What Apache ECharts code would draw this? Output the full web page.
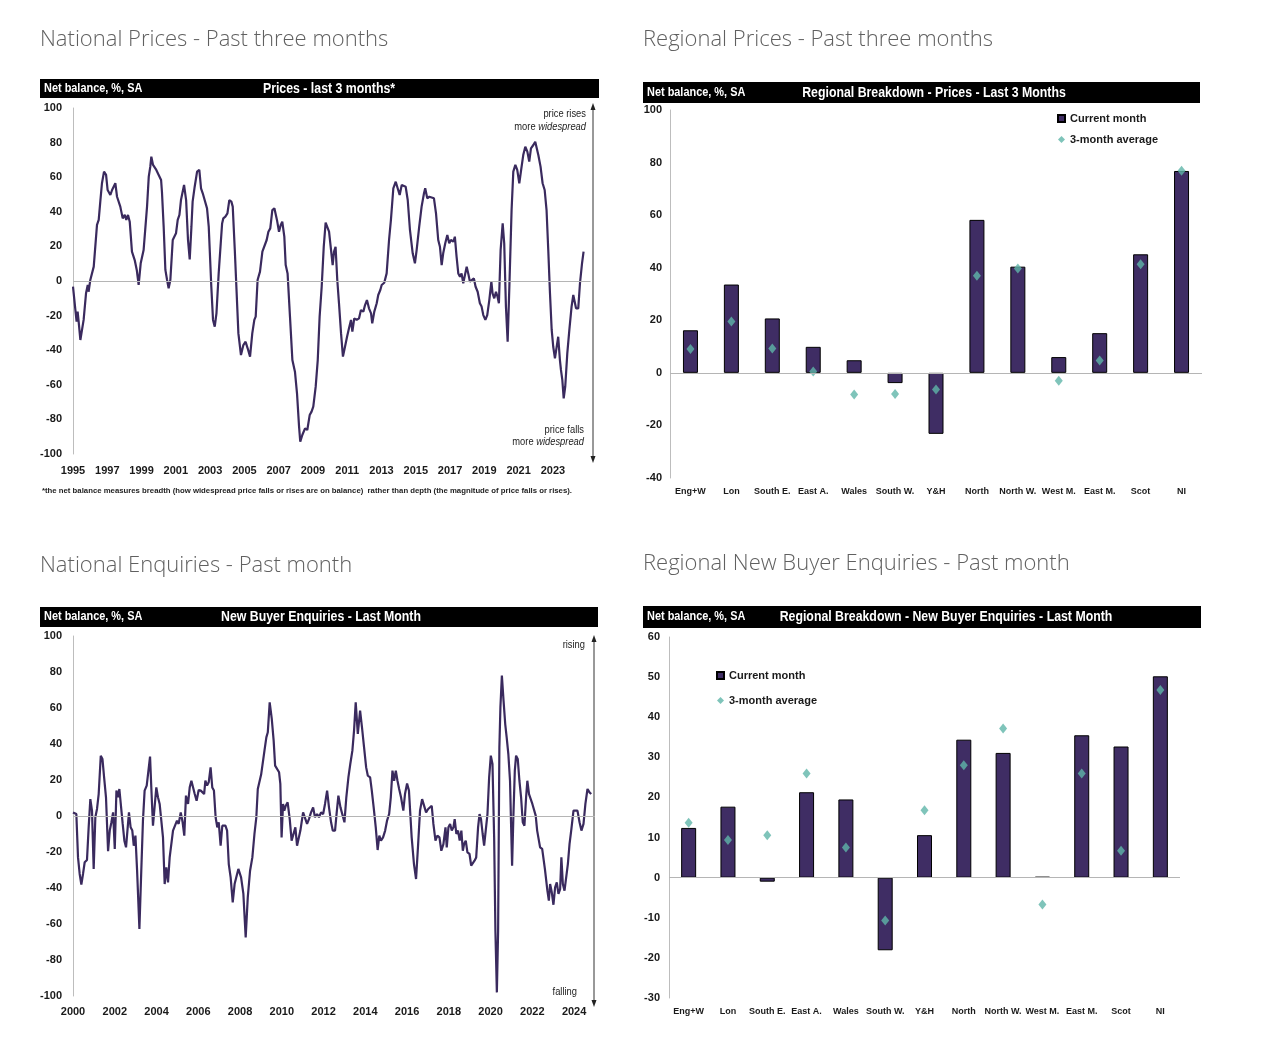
<!DOCTYPE html>
<html>
<head>
<meta charset="utf-8">
<script src="https://cdn.jsdelivr.net/npm/echarts@6/dist/echarts.min.js"></script>
<style>
html,body{margin:0;padding:0;background:#fff;}
#c{width:1264px;height:1058px;}
</style>
</head>
<body>
<div id="c"></div>
<script>
// ---------- DATA ----------
const regions = ['Eng+W','Lon','South E.','East A.','Wales','South W.','Y&H','North','North W.','West M.','East M.','Scot','NI'];

const regPricesCurrent = [16.2, 33.6, 20.7, 9.9, 4.8, -3.9, -23.2, 58.2, 40.4, 6.0, 15.1, 45.1, 76.8];
const regPricesAvg     = [9.1, 19.5, 9.3, 0.5, -8.2, -8.0, -6.3, 36.9, 39.7, -3.0, 4.7, 41.3, 76.9];

const regEnqCurrent = [12.4, 17.7, -1.0, 21.3, 19.5, -18.1, 10.6, 34.4, 31.1, 0.2, 35.5, 32.7, 50.2];
const regEnqAvg     = [13.7, 9.4, 10.6, 26.0, 7.5, -10.7, 16.8, 28.0, 37.2, -6.7, 26.0, 6.7, 46.8];

// [min, max, interval, last labelled year]
const pricesYearTicks = [1995, 2025.2, 2, 2023];
const enqYearTicks = [2000, 2025, 2, 2024];

// [year, net balance]
const nationalPrices = [
[1995.00,-3.3],[1995.14,-16.8],[1995.21,-23.5],[1995.27,-17.7],[1995.33,-23.5],[1995.43,-34.1],[1995.53,-33.0],
[1995.62,-22.5],[1995.76,-7.1],[1995.86,-2.3],[1995.91,-6.2],[1996.01,0.6],[1996.11,-0.4],[1996.21,8.3],[1996.30,9.2],
[1996.40,32.4],[1996.50,35.3],[1996.60,46.8],[1996.69,56.5],[1996.81,63.2],[1996.93,61.3],[1997.02,52.6],[1997.10,53.6],
[1997.18,49.7],[1997.28,52.6],[1997.37,52.6],[1997.47,56.5],[1997.57,48.7],[1997.76,43.0],[1997.90,36.2],[1998.02,38.2],
[1998.11,35.3],[1998.21,38.2],[1998.31,34.3],[1998.44,17.0],[1998.60,12.1],[1998.72,6.4],[1998.83,-2.3],[1998.95,10.2],
[1999.12,17.9],[1999.22,30.4],[1999.32,43.0],[1999.42,60.3],[1999.51,66.1],[1999.57,71.9],[1999.67,67.1],[1999.77,68.0],
[1999.86,64.2],[2000.00,61.3],[2000.14,58.4],[2000.19,51.6],[2000.29,31.4],[2000.39,6.4],[2000.49,0.6],[2000.58,-4.2],
[2000.68,0.6],[2000.82,23.7],[2000.93,22.7],[2001.01,27.6],[2001.11,35.3],[2001.21,38.2],[2001.30,46.8],[2001.40,47.8],
[2001.48,55.5],[2001.60,46.8],[2001.71,23.7],[2001.81,12.5],[2001.91,31.4],[2001.98,45.9],[2002.10,54.5],[2002.24,63.2],
[2002.37,64.2],[2002.47,53.6],[2002.57,50.7],[2002.67,49.7],[2002.82,42.0],[2002.92,31.4],[2003.07,-3.3],[2003.17,-22.5],
[2003.27,-26.4],[2003.37,-18.7],[2003.50,4.4],[2003.62,21.8],[2003.70,33.3],[2003.77,36.2],[2003.89,37.2],[2004.01,39.1],
[2004.12,46.8],[2004.24,45.9],[2004.32,43.0],[2004.44,17.9],[2004.65,-30.3],[2004.80,-42.8],[2004.94,-37.0],[2005.07,-35.1],
[2005.19,-38.9],[2005.33,-43.7],[2005.46,-30.3],[2005.58,-22.5],[2005.66,-20.6],[2005.77,0.6],[2005.91,5.4],[2006.05,17.0],
[2006.16,17.9],[2006.30,23.7],[2006.40,28.5],[2006.51,30.4],[2006.63,41.0],[2006.75,42.0],[2006.82,42.0],[2006.90,35.3],
[2007.02,28.5],[2007.12,32.4],[2007.21,34.3],[2007.33,25.6],[2007.41,9.2],[2007.52,4.4],[2007.66,-20.6],[2007.80,-45.7],
[2007.95,-52.4],[2008.07,-64.9],[2008.19,-84.2],[2008.26,-92.9],[2008.38,-89.0],[2008.54,-85.2],[2008.67,-86.1],[2008.81,-77.5],
[2008.92,-75.5],[2009.02,-72.6],[2009.16,-61.1],[2009.28,-45.7],[2009.39,-20.6],[2009.51,-3.3],[2009.63,19.8],[2009.74,33.7],
[2009.84,33.3],[2009.94,28.5],[2010.05,27.6],[2010.15,9.2],[2010.23,17.0],[2010.32,19.8],[2010.42,0.6],[2010.52,-12.9],
[2010.64,-30.3],[2010.75,-43.7],[2010.87,-38.0],[2010.99,-32.2],[2011.10,-27.4],[2011.22,-22.5],[2011.30,-29.3],[2011.41,-21.6],
[2011.55,-22.5],[2011.69,-21.6],[2011.80,-16.8],[2011.94,-17.7],[2012.04,-13.9],[2012.15,-11.0],[2012.27,-15.8],[2012.39,-18.7],
[2012.46,-24.5],[2012.58,-17.7],[2012.72,-12.9],[2012.81,-8.1],[2012.93,-5.2],[2013.01,-2.3],[2013.16,-1.0],[2013.30,4.4],
[2013.44,23.7],[2013.55,35.3],[2013.69,53.6],[2013.83,57.4],[2013.94,56.5],[2014.06,49.7],[2014.18,55.5],[2014.29,54.5],
[2014.41,54.5],[2014.53,46.8],[2014.66,29.5],[2014.82,16.0],[2014.95,10.2],[2015.05,17.9],[2015.20,31.4],[2015.34,43.0],
[2015.48,50.7],[2015.55,53.6],[2015.67,47.8],[2015.79,48.7],[2015.90,47.8],[2016.06,47.8],[2016.18,39.1],[2016.31,23.7],
[2016.41,19.8],[2016.51,9.2],[2016.60,16.0],[2016.72,21.8],[2016.84,26.6],[2016.95,21.8],[2017.05,23.7],[2017.19,22.7],
[2017.28,25.6],[2017.38,14.1],[2017.48,4.4],[2017.58,2.5],[2017.67,4.4],[2017.77,-1.3],[2017.87,-2.3],[2017.97,8.3],
[2018.06,4.4],[2018.16,-0.4],[2018.26,-1.3],[2018.39,1.5],[2018.49,-3.3],[2018.61,-6.2],[2018.74,-12.9],[2018.84,-14.8],
[2018.94,-19.7],[2019.06,-22.5],[2019.17,-19.7],[2019.29,-11.0],[2019.41,-0.4],[2019.48,-7.1],[2019.58,-10.0],[2019.68,-6.2],
[2019.77,-9.1],[2019.85,-12.9],[2019.95,17.9],[2020.07,33.3],[2020.16,21.8],[2020.26,-14.8],[2020.36,-35.1],[2020.46,-3.3],
[2020.59,41.0],[2020.69,63.2],[2020.81,67.1],[2020.92,64.2],[2021.04,56.5],[2021.16,65.1],[2021.27,72.8],[2021.39,77.6],
[2021.51,74.8],[2021.62,69.0],[2021.72,76.7],[2021.86,78.6],[2021.97,80.5],[2022.05,81.5],[2022.15,72.8],[2022.28,66.1],
[2022.40,56.5],[2022.52,52.6],[2022.63,41.0],[2022.73,17.9],[2022.83,-7.1],[2022.93,-28.3],[2023.02,-38.0],[2023.12,-44.7],
[2023.22,-45.7],[2023.31,-32.2],[2023.41,-45.7],[2023.47,-51.4],[2023.55,-57.2],[2023.63,-67.8],[2023.72,-61.1],[2023.84,-41.8],
[2023.96,-28.3],[2024.09,-14.8],[2024.19,-8.1],[2024.27,-7.1],[2024.35,-15.8],[2024.48,-15.8],[2024.58,-1.3],[2024.70,10.2],
[2024.79,17.0]
];

const nationalEnquiries = [
[2000.00,2.0],[2000.08,2.6],[2000.16,1.1],[2000.24,-23.0],[2000.32,-32.2],[2000.40,-38.1],[2000.48,-32.2],[2000.56,-25.7],
[2000.67,-24.4],[2000.75,-6.3],[2000.83,9.4],[2000.91,3.0],[2000.99,-29.4],[2001.07,-0.7],[2001.15,3.9],[2001.23,12.2],
[2001.33,33.5],[2001.41,31.7],[2001.49,21.5],[2001.58,10.4],[2001.68,-19.6],[2001.76,-8.1],[2001.84,-3.5],[2001.92,2.0],
[2002.00,-18.3],[2002.08,14.1],[2002.16,10.4],[2002.22,15.0],[2002.30,15.9],[2002.38,-4.4],[2002.46,-13.7],[2002.54,-17.4],
[2002.62,-16.5],[2002.68,2.0],[2002.76,-6.3],[2002.84,-8.1],[2002.91,-16.5],[2002.99,-10.9],[2003.07,-30.4],[2003.18,-62.8],
[2003.27,-30.4],[2003.35,-2.6],[2003.43,14.1],[2003.53,16.9],[2003.62,17.8],[2003.69,33.0],[2003.75,15.9],[2003.83,-5.4],
[2003.91,-5.4],[2003.99,15.9],[2004.07,10.4],[2004.15,6.7],[2004.23,5.7],[2004.31,-11.9],[2004.39,-37.8],[2004.47,-28.5],
[2004.55,-36.9],[2004.63,-23.0],[2004.71,-22.6],[2004.79,-8.1],[2004.87,-7.2],[2004.98,-2.6],[2005.06,-4.4],[2005.16,2.0],
[2005.25,-3.5],[2005.33,-10.9],[2005.41,11.3],[2005.51,6.7],[2005.59,15.9],[2005.67,19.6],[2005.75,19.6],[2005.83,12.2],
[2005.92,8.5],[2006.02,14.4],[2006.12,14.1],[2006.20,14.4],[2006.28,12.2],[2006.34,19.6],[2006.42,16.9],[2006.50,18.7],
[2006.59,27.0],[2006.67,15.9],[2006.75,14.1],[2006.83,-0.7],[2006.91,-6.3],[2006.98,-3.5],[2007.07,-16.5],[2007.15,-5.4],
[2007.23,-4.4],[2007.30,-5.4],[2007.38,-8.1],[2007.46,-26.7],[2007.55,-34.1],[2007.65,-48.0],[2007.74,-37.8],[2007.92,-29.4],
[2008.05,-34.1],[2008.16,-43.3],[2008.27,-67.4],[2008.37,-45.2],[2008.48,-30.4],[2008.59,-23.0],[2008.69,-10.0],[2008.78,-0.7],
[2008.85,15.0],[2008.94,15.9],[2009.01,23.0],[2009.09,23.3],[2009.17,36.3],[2009.26,43.7],[2009.33,46.5],[2009.42,63.1],
[2009.52,53.9],[2009.61,41.9],[2009.68,28.0],[2009.77,28.0],[2009.87,24.3],[2009.93,17.8],[2009.99,-11.9],[2010.06,6.7],
[2010.12,3.0],[2010.19,5.7],[2010.28,7.6],[2010.38,-1.7],[2010.47,-13.7],[2010.55,-14.6],[2010.65,-6.3],[2010.73,-16.5],
[2010.79,-17.4],[2010.89,-8.1],[2011.02,2.0],[2011.11,1.1],[2011.21,-4.4],[2011.30,-1.7],[2011.40,2.0],[2011.50,4.8],
[2011.59,-0.7],[2011.69,1.1],[2011.78,-0.7],[2011.88,2.0],[2011.98,1.1],[2012.07,6.7],[2012.17,14.1],[2012.26,4.8],
[2012.36,-3.5],[2012.44,-8.1],[2012.55,-8.1],[2012.63,2.0],[2012.71,11.3],[2012.81,4.8],[2012.90,5.7],[2013.00,-3.5],
[2013.09,10.4],[2013.19,21.5],[2013.28,28.9],[2013.38,36.3],[2013.46,47.4],[2013.54,63.1],[2013.64,45.6],[2013.75,58.5],
[2013.84,49.3],[2013.94,38.1],[2014.04,27.0],[2014.12,22.4],[2014.23,21.5],[2014.31,14.1],[2014.40,4.8],[2014.50,-6.3],
[2014.59,-18.9],[2014.67,-10.9],[2014.75,-13.7],[2014.85,-11.9],[2014.95,-8.1],[2015.04,-2.6],[2015.14,1.1],[2015.22,10.4],
[2015.30,25.2],[2015.38,19.6],[2015.46,25.2],[2015.54,19.6],[2015.62,15.0],[2015.71,10.4],[2015.82,3.0],[2015.90,12.2],
[2016.00,18.1],[2016.09,14.1],[2016.22,-11.9],[2016.33,-26.7],[2016.43,-35.0],[2016.53,-15.6],[2016.62,3.0],[2016.72,9.4],
[2016.81,8.5],[2016.91,2.0],[2017.01,3.9],[2017.10,3.0],[2017.18,5.7],[2017.26,-4.4],[2017.36,-13.7],[2017.45,-10.9],
[2017.55,-11.9],[2017.64,-19.3],[2017.74,-15.6],[2017.84,-6.3],[2017.90,-17.4],[2017.98,-6.3],[2018.06,-4.4],[2018.14,-8.1],
[2018.22,-6.3],[2018.28,-1.7],[2018.36,-10.0],[2018.44,-8.1],[2018.52,-13.7],[2018.60,-8.1],[2018.67,-19.3],[2018.73,-15.6],
[2018.81,-13.7],[2018.89,-20.2],[2018.99,-21.1],[2019.07,-27.6],[2019.15,-27.6],[2019.23,-24.8],[2019.31,-23.0],[2019.40,-6.3],
[2019.47,1.1],[2019.54,-1.7],[2019.62,-10.0],[2019.69,-16.5],[2019.77,-17.4],[2019.85,1.1],[2019.93,21.5],[2020.01,33.5],
[2020.09,28.9],[2020.17,-11.9],[2020.23,-63.7],[2020.30,-98.0],[2020.36,-63.7],[2020.42,38.1],[2020.47,60.4],[2020.54,78.0],
[2020.62,64.1],[2020.70,51.1],[2020.77,43.7],[2020.85,34.4],[2020.93,19.6],[2020.98,-4.4],[2021.03,-27.6],[2021.09,-0.7],
[2021.16,25.2],[2021.22,33.5],[2021.30,31.7],[2021.38,19.6],[2021.46,10.4],[2021.54,-3.5],[2021.62,-5.4],[2021.70,10.4],
[2021.76,19.6],[2021.84,12.2],[2021.92,12.2],[2022.00,6.7],[2022.08,6.7],[2022.16,0.2],[2022.23,-8.1],[2022.31,-7.2],
[2022.37,-17.4],[2022.47,-18.3],[2022.53,-17.4],[2022.60,-29.4],[2022.66,-30.4],[2022.72,-41.5],[2022.79,-47.0],[2022.85,-37.8],
[2022.93,-42.4],[2023.01,-49.3],[2023.09,-39.6],[2023.17,-36.9],[2023.25,-43.3],[2023.33,-40.6],[2023.39,-23.0],[2023.46,-37.8],
[2023.54,-41.5],[2023.62,-40.6],[2023.70,-26.7],[2023.78,-15.6],[2023.87,-7.2],[2023.97,3.0],[2024.06,3.0],[2024.16,3.0],
[2024.26,-3.5],[2024.35,-8.1],[2024.45,-4.4],[2024.54,6.7],[2024.64,15.0],[2024.74,13.1],[2024.82,12.2]
];

// ---------- STYLE ----------
const SANS = "'Liberation Sans','Arial',sans-serif";
const HEAD = "'Open Sans','Noto Sans',sans-serif";
const LINE_C = '#3a2a5e';
const BAR_C = '#3f2d64';
const DIA_C = '#5fb5a9';
const AXIS_C = '#bdbdbd';

const chart = echarts.init(document.getElementById('c'));

function yAxisCfg(grid, min, max, interval, margin) {
  return {
    type: 'value', gridIndex: grid, min: min, max: max, interval: interval,
    axisLine: { show: true, lineStyle: { color: AXIS_C, width: 1 } },
    axisTick: { show: false }, splitLine: { show: false },
    axisLabel: { margin: margin, color: '#1a1a1a', fontFamily: SANS, fontWeight: 'bold', fontSize: 11 }
  };
}
function xValueCfg(grid, t, margin) {
  return {
    type: 'value', gridIndex: grid, min: t[0], max: t[1], interval: t[2],
    axisLine: { show: false }, axisTick: { show: false }, splitLine: { show: false },
    axisLabel: { margin: margin, showMaxLabel: false, color: '#1a1a1a', fontFamily: SANS, fontWeight: 'bold', fontSize: 11,
      formatter: function (v) { return v > t[3] + 0.5 ? '' : String(Math.round(v)); } }
  };
}
function xCatCfg(grid, margin) {
  return {
    type: 'category', gridIndex: grid, data: regions,
    axisLine: { show: false }, axisTick: { show: false }, splitLine: { show: false },
    axisLabel: { margin: margin, interval: 0, color: '#1a1a1a', fontFamily: SANS, fontWeight: 'bold', fontSize: 9 }
  };
}
const zeroLine = {
  silent: true, symbol: 'none', label: { show: false },
  lineStyle: { color: '#b5b5b5', width: 1, type: 'solid' },
  emphasis: { disabled: true },
  data: [{ yAxis: 0 }]
};

// condensed text (emulates a narrow typeface by horizontal scaling)
function ntext(x, y, text, font, fill, align, scale, rich) {
  return { type: 'text', silent: true, x: x, y: y, scaleX: scale, scaleY: 1,
    style: { text: text, x: 0, y: 0, align: align, verticalAlign: 'middle', fill: fill, font: font, rich: rich } };
}
function blackBar(x, y, w, h, cx, title) {
  return [
    { type: 'rect', shape: { x: x, y: y, width: w, height: h }, style: { fill: '#000' }, silent: true },
    ntext(x + 4, y + h / 2, 'Net balance, %, SA', 'bold 12px ' + SANS, '#fff', 'left', 0.91),
    ntext(cx, y + h / 2 + 0.5, title, 'bold 14px ' + SANS, '#fff', 'center', 0.88)
  ];
}
function heading(x, y, t) {
  return { type: 'text', silent: true, style: { text: t, x: x, y: y, verticalAlign: 'middle', fill: '#606060', font: '300 22px ' + HEAD } };
}
function vArrow(x, y1, y2) {
  return [
    { type: 'line', silent: true, shape: { x1: x, y1: y1 + 4, x2: x, y2: y2 - 4 }, style: { stroke: '#333', lineWidth: 1 } },
    { type: 'polygon', silent: true, shape: { points: [[x, y1], [x - 2.5, y1 + 7], [x + 2.5, y1 + 7]] }, style: { fill: '#222' } },
    { type: 'polygon', silent: true, shape: { points: [[x, y2], [x - 2.5, y2 - 7], [x + 2.5, y2 - 7]] }, style: { fill: '#222' } }
  ];
}
const richItal = {
  a: { fontFamily: SANS, fontSize: 11, fill: '#222' },
  b: { fontFamily: SANS, fontSize: 11, fontStyle: 'italic', fill: '#222' }
};
function note(x, y, text, rich) {
  return ntext(x, y, text, '11px ' + SANS, '#222', 'right', 0.85, rich);
}

const graphics = [].concat(
  [heading(40, 40, 'National Prices - Past three months'),
   heading(643, 40, 'Regional Prices - Past three months'),
   heading(40, 566, 'National Enquiries - Past month'),
   heading(643, 564, 'Regional New Buyer Enquiries - Past month')],
  blackBar(40, 79, 559, 19, 329, 'Prices - last 3 months*'),
  blackBar(643, 82, 557, 21, 934, 'Regional Breakdown - Prices - Last 3 Months'),
  blackBar(40, 607, 558, 20, 321, 'New Buyer Enquiries - Last Month'),
  blackBar(643, 606, 558, 22, 946, 'Regional Breakdown - New Buyer Enquiries - Last Month'),
  vArrow(593, 103, 463),
  vArrow(594, 635, 1007),
  [note(586, 114, 'price rises'),
   note(586, 127, '{a|more }{b|widespread}', richItal),
   note(584, 430, 'price falls'),
   note(584, 442, '{a|more }{b|widespread}', richItal),
   note(585, 645, 'rising'),
   note(577, 992, 'falling'),
   ntext(42, 491, '*the net balance measures breadth (how widespread price falls or rises are on balance)  rather than depth (the magnitude of price falls or rises).',
     'bold 8px ' + SANS, '#222', 'left', 0.97)]
);

const legendText = { fontFamily: SANS, fontWeight: 'bold', fontSize: 11, color: '#1a1a1a' };

const option = {
  animation: false,
  backgroundColor: '#fff',
  grid: [
    { left: 73, top: 108, width: 517.6, height: 346 },
    { left: 670, top: 110, width: 532, height: 368 },
    { left: 73, top: 636, width: 522, height: 360 },
    { left: 669, top: 637, width: 511, height: 361 }
  ],
  xAxis: [
    xValueCfg(0, pricesYearTicks, 11),
    xCatCfg(1, 9),
    xValueCfg(2, enqYearTicks, 10),
    xCatCfg(3, 9)
  ],
  yAxis: [
    yAxisCfg(0, -100, 100, 20, 11),
    yAxisCfg(1, -40, 100, 20, 8),
    yAxisCfg(2, -100, 100, 20, 11),
    yAxisCfg(3, -30, 60, 10, 9)
  ],
  legend: [
    { orient: 'vertical', left: 1052, top: 108, itemWidth: 7, itemHeight: 7, itemGap: 10, textStyle: legendText, selectedMode: false,
      data: [{ name: 'Current month', icon: 'rect' }, { name: '3-month average', icon: 'diamond' }] },
    { orient: 'vertical', left: 711, top: 665, itemWidth: 7, itemHeight: 7, itemGap: 14, textStyle: legendText, selectedMode: false,
      data: [{ name: 'Current month', icon: 'rect' }, { name: '3-month average', icon: 'diamond' }] }
  ],
  graphic: graphics,
  series: [
    { type: 'line', name: 'Prices', xAxisIndex: 0, yAxisIndex: 0, data: nationalPrices, showSymbol: false, symbol: 'none',
      lineStyle: { color: LINE_C, width: 2.2 }, itemStyle: { color: LINE_C }, markLine: zeroLine, z: 3 },
    { type: 'bar', name: 'Current month', xAxisIndex: 1, yAxisIndex: 1, data: regPricesCurrent, barWidth: 15,
      itemStyle: { color: BAR_C, borderColor: '#000', borderWidth: 1 }, markLine: zeroLine },
    { type: 'scatter', name: '3-month average', xAxisIndex: 1, yAxisIndex: 1, data: regPricesAvg, symbol: 'diamond', symbolSize: [8, 10],
      itemStyle: { color: DIA_C }, z: 4 },
    { type: 'line', name: 'Enquiries', xAxisIndex: 2, yAxisIndex: 2, data: nationalEnquiries, showSymbol: false, symbol: 'none',
      lineStyle: { color: LINE_C, width: 2.2 }, itemStyle: { color: LINE_C }, markLine: zeroLine, z: 3 },
    { type: 'bar', name: 'Current month', xAxisIndex: 3, yAxisIndex: 3, data: regEnqCurrent, barWidth: 15,
      itemStyle: { color: BAR_C, borderColor: '#000', borderWidth: 1 }, markLine: zeroLine },
    { type: 'scatter', name: '3-month average', xAxisIndex: 3, yAxisIndex: 3, data: regEnqAvg, symbol: 'diamond', symbolSize: [8, 10],
      itemStyle: { color: DIA_C }, z: 4 }
  ]
};
chart.setOption(option);
</script>
</body>
</html>
